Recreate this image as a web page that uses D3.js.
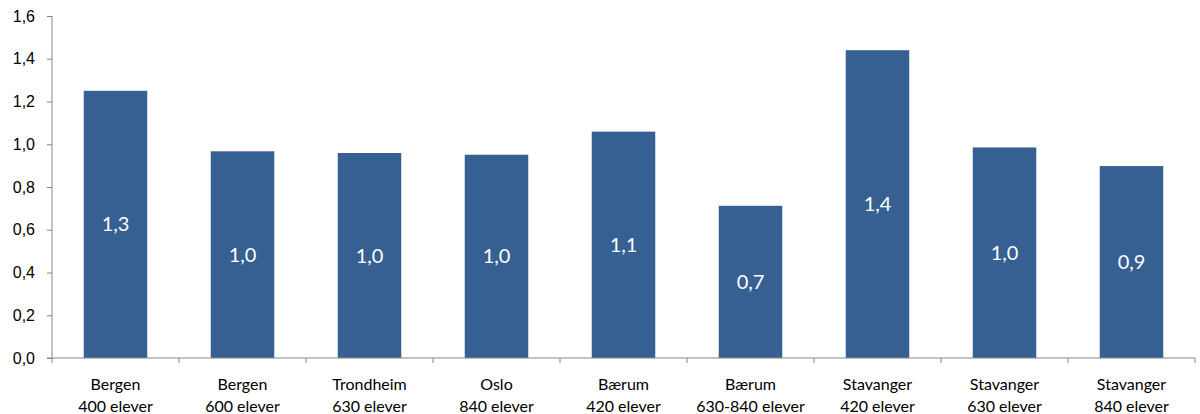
<!DOCTYPE html>
<html lang="no">
<head>
  <meta charset="UTF-8">
  <title>Stolpediagram</title>
  <script src="https://d3js.org/d3.v7.min.js"></script>
  <style>
    body { margin: 0; background: #fff; }
    svg { font-family: Lato, "Open Sans", sans-serif; }
    .axis path, .axis line { stroke: #868686; }
    .axis text { fill: #000; font-size: 16px; }
    .bar-label { fill: #fff; font-size: 20px; }
  </style>
</head>
<body>
<svg id="chart" width="1200" height="414"></svg>
<script>
  // Data
  const cities = ["Bergen", "Bergen", "Trondheim", "Oslo", "Bærum", "Bærum", "Stavanger", "Stavanger", "Stavanger"];
  const sizes = ["400 elever", "600 elever", "630 elever", "840 elever", "420 elever", "630-840 elever", "420 elever", "630 elever", "840 elever"];
  const values = [1.25, 0.967, 0.959, 0.951, 1.059, 0.712, 1.44, 0.985, 0.898];
  const yTicks = [0, 0.2, 0.4, 0.6, 0.8, 1.0, 1.2, 1.4, 1.6];

  const svg = d3.select("#chart");
  const margin = {top: 16, right: 5, bottom: 56, left: 52};
  const width = 1200 - margin.left - margin.right;
  const height = 414 - margin.top - margin.bottom;

  const g = svg.append("g").attr("transform", `translate(${margin.left},${margin.top})`);

  const idx = d3.range(values.length);
  const x = d3.scaleBand().domain(idx).range([0, width]).paddingInner(0.5).paddingOuter(0.25);
  const y = d3.scaleLinear().domain([0, 1.6]).range([height, 0]);

  const fmt = d3.formatLocale({decimal: ",", thousands: " ", grouping: [3], currency: ["", " kr"]});

  // y axis
  const yAxis = g.append("g").attr("class", "axis")
    .call(d3.axisLeft(y).tickValues(yTicks).tickSize(5).tickPadding(12).tickFormat(fmt.format(".1f")));
  yAxis.select(".domain").attr("d", `M0,0V${height}`);

  // bars
  g.selectAll("rect.bar").data(idx).join("rect")
    .attr("class", "bar")
    .attr("x", i => x(i))
    .attr("width", x.bandwidth())
    .attr("y", i => y(values[i]))
    .attr("height", i => height - y(values[i]))
    .attr("fill", "#366092");

  // bar value labels
  g.selectAll("text.bar-label").data(idx).join("text")
    .attr("class", "bar-label")
    .attr("x", i => x(i) + x.bandwidth() / 2)
    .attr("y", i => (y(values[i]) + height) / 2)
    .attr("dy", "0.35em")
    .attr("text-anchor", "middle")
    .text(i => fmt.format(".1f")(values[i]));

  // x axis with category boundary ticks
  const xg = g.append("g").attr("class", "axis").attr("transform", `translate(0,${height})`);
  xg.append("line").attr("x1", -5).attr("x2", width).attr("y1", 0).attr("y2", 0);
  const step = x.step();
  xg.selectAll("line.tick").data(d3.range(values.length + 1)).join("line")
    .attr("class", "tick")
    .attr("x1", i => i * step).attr("x2", i => i * step)
    .attr("y1", 0).attr("y2", 5);

  const lab = xg.selectAll("text.cat").data(idx).join("text")
    .attr("class", "cat")
    .attr("text-anchor", "middle")
    .attr("x", i => x(i) + x.bandwidth() / 2);
  lab.append("tspan").attr("x", i => x(i) + x.bandwidth() / 2).attr("y", 32).text(i => cities[i]);
  lab.append("tspan").attr("x", i => x(i) + x.bandwidth() / 2).attr("y", 54).text(i => sizes[i]);
</script>
</body>
</html>
